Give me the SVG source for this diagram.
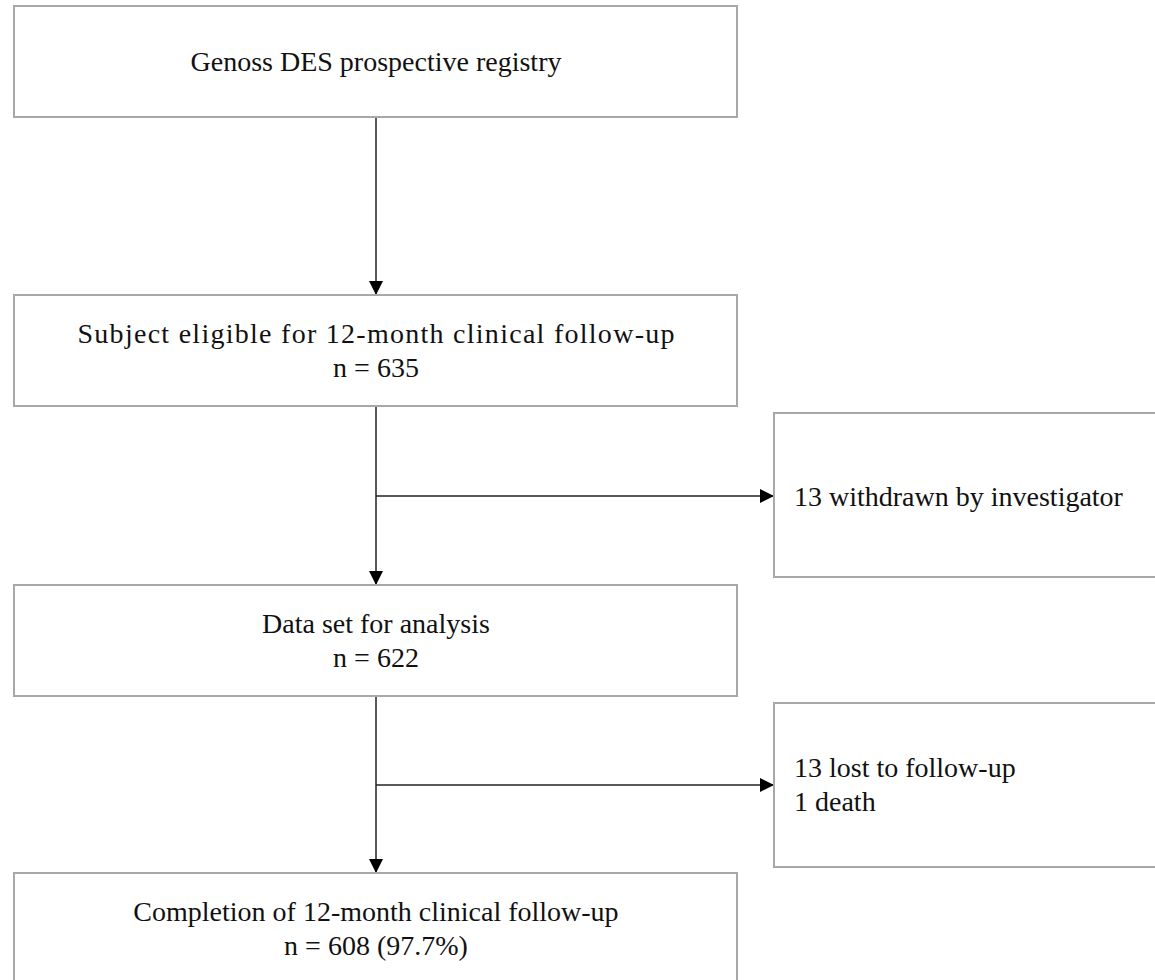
<svg xmlns="http://www.w3.org/2000/svg" width="1155" height="980" viewBox="0 0 1155 980">
<style>
.box{fill:#fff;stroke:#a8a8a8;stroke-width:2}
.t{font-family:"Liberation Serif","Times New Roman",serif;font-size:28px;fill:#111}
.c{text-anchor:middle}
.ln{stroke:#222;stroke-width:1.5;fill:none}
</style>
<defs>
<marker id="ah" markerUnits="userSpaceOnUse" markerWidth="14" markerHeight="14" viewBox="0 0 14 14" refX="14" refY="7" orient="auto">
<path d="M0,0 L14,7 L0,14 Z" fill="#000"/>
</marker>
</defs>
<rect width="1155" height="980" fill="#fff"/>
<g id="connectors">
<line class="ln" x1="376" y1="117" x2="376" y2="295" marker-end="url(#ah)"/>
<line class="ln" x1="376" y1="406" x2="376" y2="585" marker-end="url(#ah)"/>
<line class="ln" x1="376" y1="496" x2="774" y2="496" marker-end="url(#ah)"/>
<line class="ln" x1="376" y1="696" x2="376" y2="873" marker-end="url(#ah)"/>
<line class="ln" x1="376" y1="785" x2="774" y2="785" marker-end="url(#ah)"/>
</g>
<g id="n1">
<rect class="box" x="14" y="6" width="723" height="111"/>
<text class="t c" x="376" y="71">Genoss DES prospective registry</text>
</g>
<g id="n2">
<rect class="box" x="14" y="295" width="723" height="111"/>
<text class="t c" x="376" y="343" textLength="597" lengthAdjust="spacing">Subject eligible for 12-month clinical follow-up</text>
<text class="t c" x="376" y="377">n = 635</text>
</g>
<g id="n3">
<rect class="box" x="774" y="413" width="390" height="164"/>
<text class="t" x="794" y="506">13 withdrawn by investigator</text>
</g>
<g id="n4">
<rect class="box" x="14" y="585" width="723" height="111"/>
<text class="t c" x="376" y="633">Data set for analysis</text>
<text class="t c" x="376" y="667">n = 622</text>
</g>
<g id="n5">
<rect class="box" x="774" y="703" width="390" height="164"/>
<text class="t" x="794" y="777">13 lost to follow-up</text>
<text class="t" x="794" y="811">1 death</text>
</g>
<g id="n6">
<rect class="box" x="14" y="873" width="723" height="111"/>
<text class="t c" x="376" y="921">Completion of 12-month clinical follow-up</text>
<text class="t c" x="376" y="955">n = 608 (97.7%)</text>
</g>
</svg>
